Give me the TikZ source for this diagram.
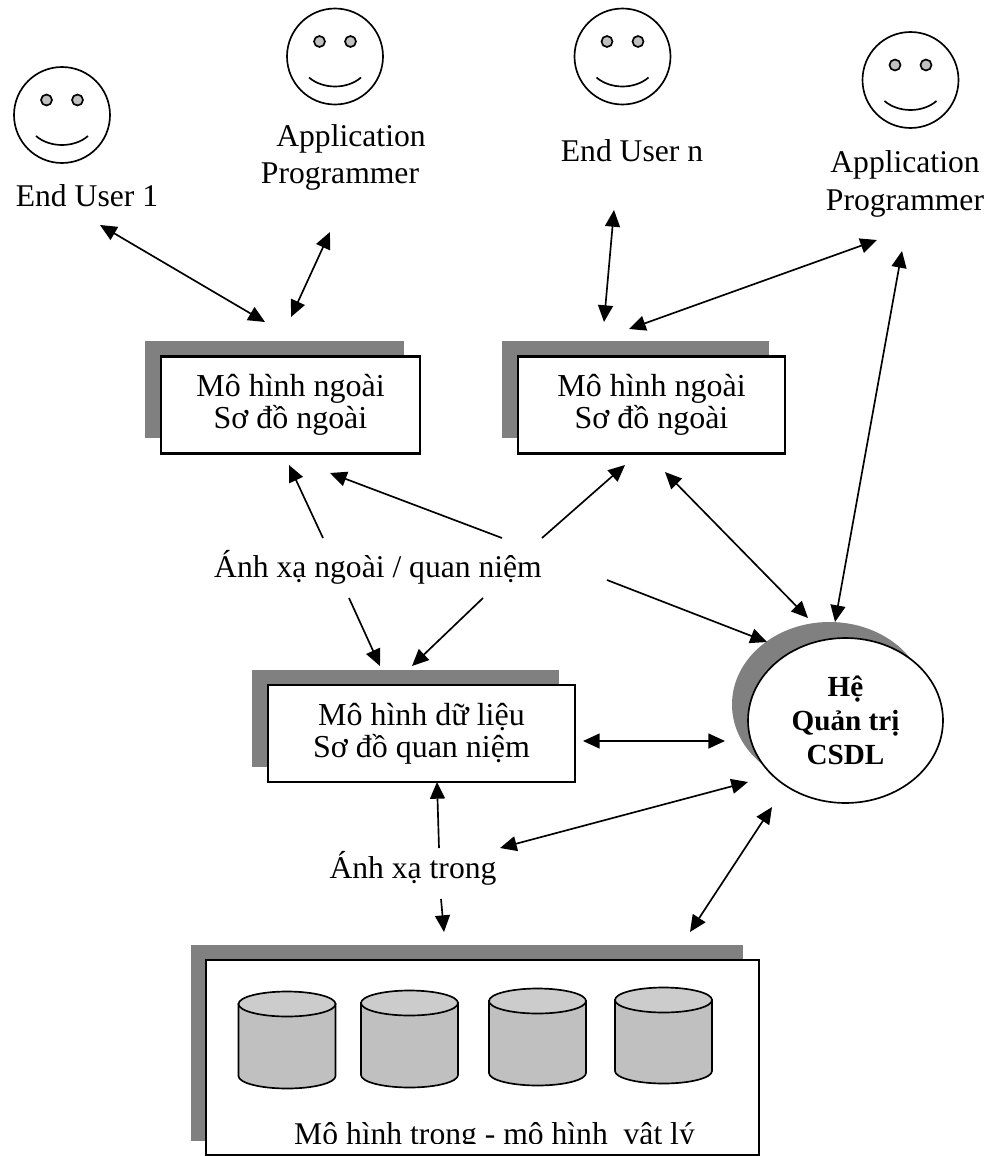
\documentclass[tikz,border=0pt]{standalone}
\usepackage{fontspec}
\setmainfont{Liberation Serif}
\usetikzlibrary{arrows.meta,shapes.geometric}
\definecolor{backgray}{HTML}{808080}
\definecolor{diskgray}{HTML}{C0C0C0}
\definecolor{diskcap}{HTML}{CCCCCC}
\tikzset{
  >={Triangle[length=9.5pt,width=8.5pt]},
  label text/.style={font=\fontsize{18}{18.2}\selectfont, anchor=base, inner sep=0pt},
  model box/.style={draw, line width=1.25pt, fill=white, align=center, inner sep=0pt, minimum height=1.94cm, font=\fontsize{18.2}{18.2}\selectfont},
  back fill/.style={fill=backgray, draw=none}
}
\begin{document}
\begin{tikzpicture}[x=.02cm, y=-.02cm, line width=.95pt]
  \useasboundingbox (0,0) rectangle (989,1156);

  % users
  \foreach \cx/\cy in {62/115, 335/56.5, 622.5/56.5, 910.5/80} {
    \draw (\cx,\cy) circle [radius=48];
    \draw[fill=diskgray] (\cx-15.5,\cy-15) circle [radius=5.5];
    \draw[fill=diskgray] (\cx+15.5,\cy-15) circle [radius=5.5];
    \draw (\cx-26,\cy+21) .. controls (\cx-12,\cy+33) and (\cx+12,\cy+33) .. (\cx+26,\cy+21);
  }
  \node[label text] (user1) at (87,206) {End User 1};
  \node[label text] (app1a) at (351,146) {Application};
  \node[label text] (app1b) at (340,183) {Programmer};
  \node[label text] (usern) at (632,161) {End User n};
  \node[label text] (app2a) at (905,172) {Application};
  \node[label text] (app2b) at (905,210) {Programmer};

  % boxes
  \fill[back fill] (145,341) rectangle (404,438);
  \node[model box, minimum width=5.18cm] (ext1) at (290.5,405) {Mô hình ngoài\\Sơ đồ ngoài};
  \fill[back fill] (502,341) rectangle (769,438);
  \node[model box, minimum width=5.34cm] (ext2) at (651.5,405) {Mô hình ngoài\\Sơ đồ ngoài};
  \fill[back fill] (252,670) rectangle (559,767);
  \node[model box, minimum width=6.14cm] (concept) at (421.5,733.5) {Mô hình dữ liệu\\Sơ đồ quan niệm};
  \fill[back fill] (191,945) rectangle (743,1141);
  \draw[fill=white, line width=1.25pt] (206,960) rectangle (759,1155);
  \foreach \dx/\dy/\db in {238.5/1004/1076, 361/1003/1075, 489/1001/1073, 615/1000/1071} {
    \draw[fill=diskgray] (\dx,\dy) -- (\dx,\db) arc (180:0:48.5 and 12.5) -- (\dx+97,\dy) -- cycle;
    \draw[fill=diskcap] (\dx+48.5,\dy) ellipse [x radius=48.5, y radius=12.5];
  }
  \begin{scope}
    \clip (206,1100) rectangle (759,1143.5);
    \node[label text] (physical) at (494.5,1144) {Mô hình trong - mô hình\ \ vât lý};
  \end{scope}

  % dbms
  \fill[back fill] (829.5,704.5) ellipse [x radius=97.5, y radius=82.5];
  \node[draw, fill=white, ellipse, minimum width=3.9cm, minimum height=3.3cm, inner sep=0pt, align=center,
    font=\fontsize{16.6}{19.2}\selectfont\bfseries] (dbms) at (845.5,720.5) {Hệ\\Quản trị\\CSDL};

  \node[label text] (mapext) at (378,577) {Ánh xạ ngoài / quan niệm};
  \node[label text] (mapint) at (413,878) {Ánh xạ trong};

  % arrow ends
  \coordinate (a1) at (100,225);   \coordinate (a2) at (265,322);
  \coordinate (b1) at (330,232);   \coordinate (b2) at (291,317);
  \coordinate (c1) at (614,210);   \coordinate (c2) at (604,322);
  \coordinate (d1) at (877,240);   \coordinate (d2) at (629,329);
  \coordinate (e1) at (902,251);   \coordinate (e2) at (835,622);
  \coordinate (f1) at (323,538);   \coordinate (f2) at (289,465);
  \coordinate (g1) at (502,538);   \coordinate (g2) at (330,473);
  \coordinate (h1) at (542,538);   \coordinate (h2) at (625,465);
  \coordinate (i1) at (665,472);   \coordinate (i2) at (808,618);
  \coordinate (j1) at (607,580);   \coordinate (j2) at (767,642);
  \coordinate (k1) at (349,598);   \coordinate (k2) at (380,666);
  \coordinate (l1) at (483,598);   \coordinate (l2) at (412,666);
  \coordinate (m1) at (583,741);   \coordinate (m2) at (725,741);
  \coordinate (n1) at (439,848);   \coordinate (n2) at (437,782);
  \coordinate (o1) at (500,848);   \coordinate (o2) at (748,782);
  \coordinate (p1) at (441,899);   \coordinate (p2) at (444,932);
  \coordinate (q1) at (772,807);   \coordinate (q2) at (690,932);

  \draw[<->] (a1) -- (a2);
  \draw[<->] (b1) -- (b2);
  \draw[<->] (c1) -- (c2);
  \draw[<->] (d1) -- (d2);
  \draw[<->] (e1) -- (e2);
  \draw[->] (f1) -- (f2);
  \draw[->] (g1) -- (g2);
  \draw[->] (h1) -- (h2);
  \draw[<->] (i1) -- (i2);
  \draw[->] (j1) -- (j2);
  \draw[->] (k1) -- (k2);
  \draw[->] (l1) -- (l2);
  \draw[<->] (m1) -- (m2);
  \draw[->] (n1) -- (n2);
  \draw[<->] (o1) -- (o2);
  \draw[->] (p1) -- (p2);
  \draw[<->] (q1) -- (q2);
\end{tikzpicture}
\end{document}
